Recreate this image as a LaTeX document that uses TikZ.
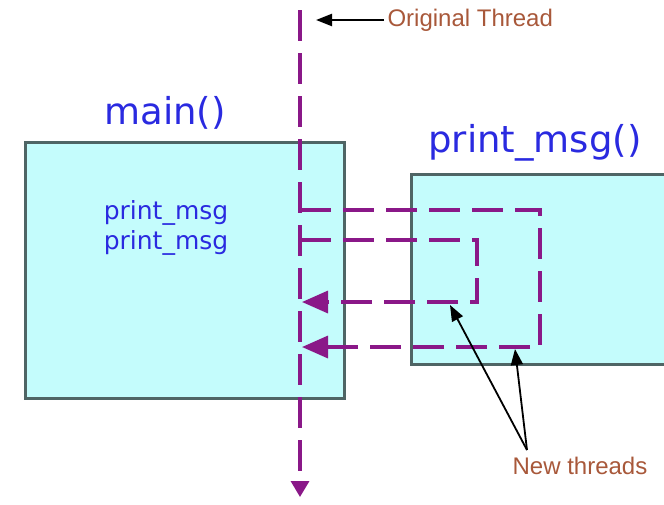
\documentclass[tikz,border=0pt]{standalone}
\usepackage{fontspec}
\setmainfont{DejaVu Sans}
\newfontfamily\notefont{Liberation Sans}
\usetikzlibrary{arrows.meta, positioning}
\definecolor{threadpurple}{HTML}{8A1888}
\definecolor{boxcyan}{HTML}{C4FCFC}
\definecolor{boxedge}{HTML}{4F6565}
\definecolor{codeblue}{HTML}{2A2AE0}
\definecolor{notebrown}{HTML}{A8583A}

\begin{document}
\begin{tikzpicture}[x=1pt, y=-1pt,
    % cajas de funciones
    func/.style={draw=boxedge, fill=boxcyan, line width=2.5pt, anchor=north west},
    % textos
    title/.style={font=\fontsize{37}{40}\selectfont, text=codeblue},
    call/.style={font=\fontsize{25}{28}\selectfont, text=codeblue, inner sep=0pt},
    note/.style={font=\notefont\fontsize{24}{26}\selectfont, text=notebrown},
    % hilos
    thread/.style={draw=threadpurple, line width=3.4pt, dash pattern=on 31pt off 12pt},
    tip/.style={-{Triangle[length=26pt, width=22pt]}},
    pointer/.style={draw=black, line width=1.8pt, -{Triangle[length=16pt, width=12pt]}}
]
    \useasboundingbox (0,0) rectangle (664,504);

    % --- FUNCIONES ---
    \node[func, minimum width=319pt, minimum height=256pt] (mainbox) at (24,141) {};
    \node[func, minimum width=270pt, minimum height=190pt] (printbox) at (410,173) {};

    \node[title] (maintitle)  at (165,113) {main()};
    \node[title] (printtitle) at (535,143) {print\_msg()};

    \node[call] (call1) at (166,213) {print\_msg};
    \node[call] (call2) at (166,243) {print\_msg};

    % --- HILO ORIGINAL ---
    \coordinate (origtop) at (300,10);
    \coordinate (origend) at (300,497);
    \draw[thread, -{Triangle[length=16pt, width=18pt]}] (origtop) -- (origend);

    \node[note, anchor=west] (origlabel) at (384,20) {Original Thread};
    \coordinate (origmark) at (316,20);
    \draw[pointer, line width=2.2pt] (origlabel.west) -- (origmark);

    % --- HILOS NUEVOS ---
    \coordinate (t1start) at (300,210);
    \coordinate (t1a)     at (540,210);
    \coordinate (t1b)     at (540,347);
    \coordinate (t1end)   at (302,347);
    \draw[thread, tip] (t1start) -- (t1a) -- (t1b) -- (t1end);

    \coordinate (t2start) at (300,240);
    \coordinate (t2a)     at (477,240);
    \coordinate (t2b)     at (477,302);
    \coordinate (t2end)   at (302,302);
    \draw[thread, tip] (t2start) -- (t2a) -- (t2b) -- (t2end);

    \node[note] (newlabel) at (580,466) {New threads};
    \coordinate (fork) at (527,450);
    \coordinate (hit2) at (450,305);
    \coordinate (hit1) at (515,349);
    \draw[pointer] (fork) -- (hit2);
    \draw[pointer] (fork) -- (hit1);

\end{tikzpicture}
\end{document}
